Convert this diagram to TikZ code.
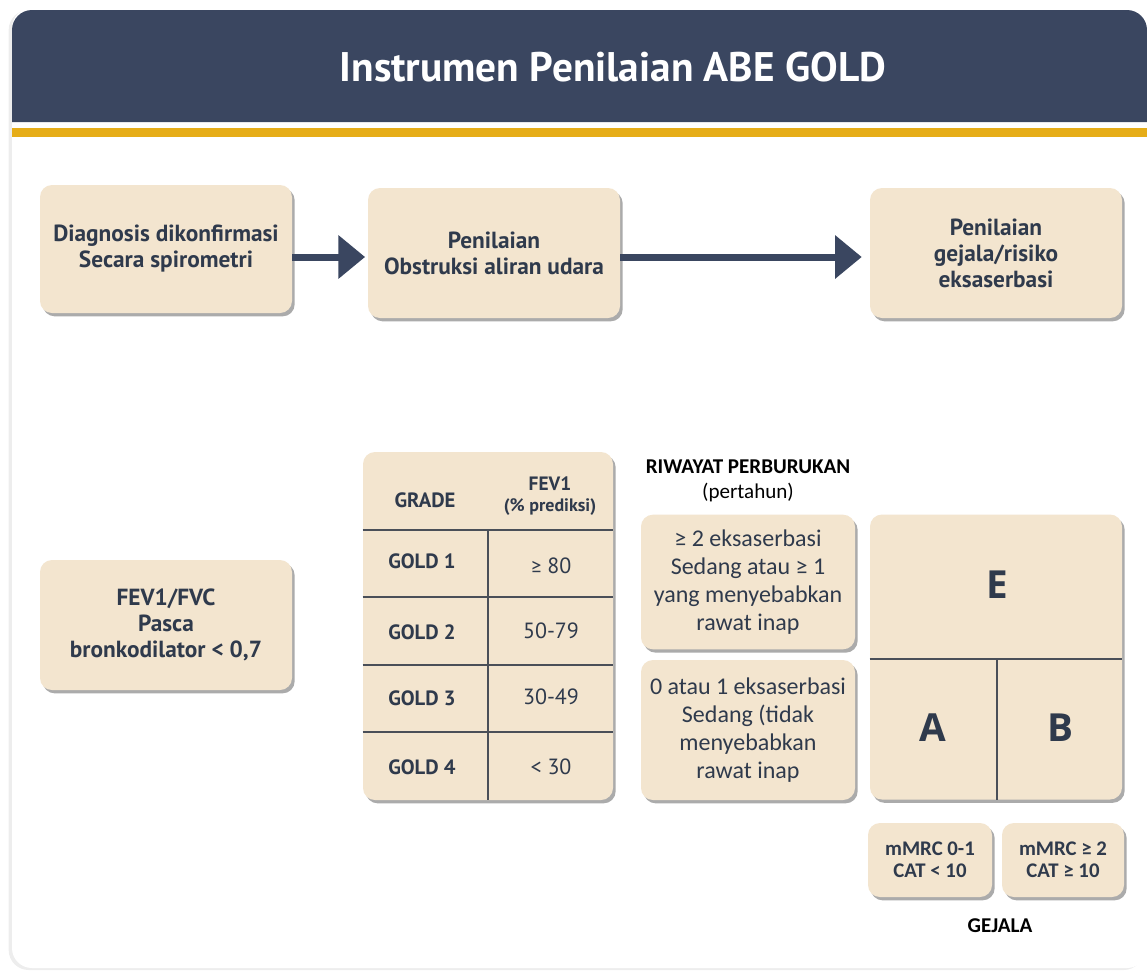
\documentclass[tikz,border=0pt]{standalone}
\usepackage{fontspec}
\setmainfont{PT Sans}
\newfontfamily\calfont{Carlito}
\newfontfamily\opfont{Open Sans}
\usetikzlibrary{arrows.meta,shadows}
\definecolor{navy}{HTML}{3A4660}
\definecolor{ink}{HTML}{2F3A4C}
\definecolor{beige}{HTML}{F3E5CF}
\definecolor{gold}{HTML}{E6AD18}
\definecolor{rule}{HTML}{4A4F58}
\newcommand{\mygeq}{{\calfont ≥}}
\tikzset{
  box/.style={fill=beige, rounded corners=9pt, inner sep=0pt, align=center,
    text=ink, font=\bfseries\fontsize{17.5}{19.5}\selectfont,
    drop shadow={shadow xshift=2pt, shadow yshift=-2.5pt, opacity=0.5, fill=black!65}},
  cbox/.style={box, font=\calfont\fontsize{18}{21}\selectfont},
  arr/.style={draw=navy, line width=5.25pt, -{Triangle[width=31.5pt,length=20pt]}, shorten >=2pt},
  cell/.style={text=ink, font=\bfseries\fontsize{15.5}{18}\selectfont, inner sep=0pt},
  val/.style={text=ink, font=\fontsize{16.5}{19}\selectfont, inner sep=0pt},
  grid/.style={draw=rule, line width=1.3pt},
  lbl/.style={text=black, font=\calfont\fontsize{15.8}{18}\selectfont, align=center, inner sep=0pt},
  big/.style={text=ink, font=\opfont\bfseries\fontsize{29}{32}\selectfont, inner sep=0pt},
  sym/.style={box, font=\calfont\bfseries\fontsize{15.6}{16.5}\selectfont},
}
\begin{document}
\begin{tikzpicture}[x=0.75pt,y=-0.75pt]
\useasboundingbox (0,0) rectangle (1147,975);
% card
\fill[white, rounded corners=15pt, drop shadow={shadow xshift=-2.5pt, shadow yshift=-1.5pt, opacity=0.18, fill=black!40}] (12,8) rectangle (1147,968);
% header
\fill[navy] (12,122) [rounded corners=15pt] -- (12,10) -- (1147,10) [sharp corners] -- (1147,122) -- cycle;
\node[text=white, font=\bfseries\fontsize{31}{34}\selectfont] (title) at (613,67) {Instrumen Penilaian ABE GOLD};
\fill[gold] (12,128) rectangle (1147,137);

% top row
\node[box, minimum width=189pt, minimum height=96pt] (b1) at (166,249) {Diagnosis dikonfirmasi\\Secara spirometri};
\node[box, minimum width=189pt, minimum height=97.5pt] (b2) at (494,253) {Penilaian\\Obstruksi aliran udara};
\node[box, minimum width=189pt, minimum height=97.5pt] (b3) at (996,253) {Penilaian\\gejala/risiko\\eksaserbasi};
\draw[arr] (b1.east |- 0,257) -- (b2.west |- 0,257);
\draw[arr] (b2.east |- 0,257) -- ([xshift=-4pt]b3.west |- 0,257);

% FEV1/FVC
\node[box, minimum width=189pt, minimum height=97.5pt] (fev) at (166,625) {FEV1/FVC\\Pasca\\bronkodilator < 0,7};

% table
\node[box, minimum width=187.5pt, minimum height=261pt] (tab) at (488,626) {};
\foreach \yy in {530,597,665,732} \draw[grid] (tab.west |- 0,\yy) -- (tab.east |- 0,\yy);
\draw[grid] (488,530) -- (488,800);
\node[cell] (hgrade) at (425,500) {GRADE};
\node[cell, font=\bfseries\fontsize{14.5}{16}\selectfont] (hfev) at (550,484) {FEV1};
\node[cell, font=\bfseries\fontsize{13.5}{15}\selectfont] (hpred) at (550,507) {(\% prediksi)};
\node[cell] (g1) at (422,561) {GOLD 1};
\node[cell] (g2) at (422,632) {GOLD 2};
\node[cell] (g3) at (422,698) {GOLD 3};
\node[cell] (g4) at (422,767) {GOLD 4};
\node[val] (v1) at (551,566) {\mygeq\ 80};
\node[val] (v2) at (551,631) {50-79};
\node[val] (v3) at (551,697) {30-49};
\node[val] (v4) at (551,767) {< 30};

% riwayat
\node[lbl] (riw) at (748,467) {\bfseries RIWAYAT PERBURUKAN};
\node[lbl] (pth) at (748,492) {(pertahun)};
\node[cbox, minimum width=160.5pt, minimum height=101pt] (r1) at (748,582) {≥ 2 eksaserbasi\\Sedang atau ≥ 1\\yang menyebabkan\\rawat inap};
\node[cbox, minimum width=160.5pt, minimum height=105pt] (r2) at (748,730) {0 atau 1 eksaserbasi\\Sedang (tidak\\menyebabkan\\rawat inap};

% matrix
\node[box, minimum width=189pt, minimum height=213.75pt] (mx) at (996,657) {};
\draw[grid] (mx.west |- 0,659) -- (mx.east |- 0,659);
\draw[grid] (997,659) -- (mx.south -| 997,0);
\node[big] (e) at (997,585) {E};
\node[big] (a) at (933,728) {A};
\node[big] (b) at (1060,728) {B};

% symptoms
\node[sym, minimum width=93pt, minimum height=55.5pt] (m1) at (930,860) {mMRC 0-1\\CAT < 10};
\node[sym, minimum width=91.5pt, minimum height=55.5pt] (m2) at (1063,860) {mMRC ≥ 2\\CAT ≥ 10};
\node[lbl] (gej) at (1000,926) {\bfseries GEJALA};
\end{tikzpicture}
\end{document}
